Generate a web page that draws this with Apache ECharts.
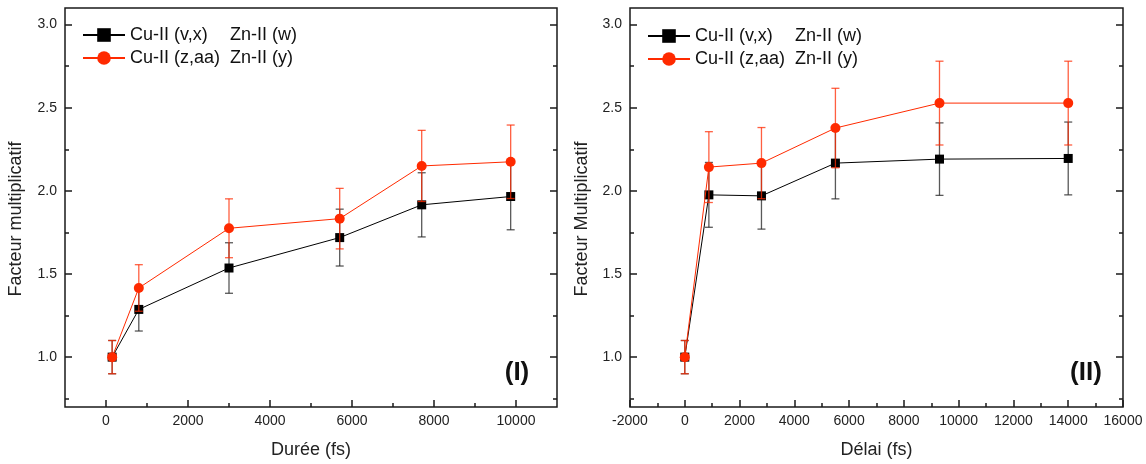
<!DOCTYPE html>
<html>
<head>
<meta charset="utf-8">
<script src="https://cdn.jsdelivr.net/npm/echarts@6/dist/echarts.min.js"></script>
<style>
html,body{margin:0;padding:0;background:#fff;}
#chart{width:1146px;height:464px;}
</style>
</head>
<body>
<div id="chart"></div>
<script>
// ---------- data ----------
// Panel (I)
const xI = [150, 800, 3000, 5700, 7700, 9870];
const blackI = [1.0, 1.287, 1.536, 1.719, 1.916, 1.966];
const blackErrI = [0.1, 0.13, 0.152, 0.171, 0.193, 0.2];
const redI = [1.0, 1.416, 1.775, 1.833, 2.150, 2.175];
const redErrI = [0.1, 0.14, 0.177, 0.182, 0.214, 0.221];
// Panel (II)
const xII = [0, 880, 2800, 5500, 9300, 14000];
const blackII = [1.0, 1.976, 1.970, 2.167, 2.191, 2.195];
const blackErrII = [0.1, 0.195, 0.2, 0.215, 0.218, 0.219];
const redII = [1.0, 2.143, 2.167, 2.378, 2.528, 2.528];
const redErrII = [0.1, 0.213, 0.214, 0.239, 0.252, 0.252];

// ticks
const yMajor = [1.0, 1.5, 2.0, 2.5, 3.0];
const yMinor = [0.75, 1.25, 1.75, 2.25, 2.75];
const xMajorI = [0, 2000, 4000, 6000, 8000, 10000];
const xMinorI = [1000, 3000, 5000, 7000, 9000];
const xMajorII = [-2000, 0, 2000, 4000, 6000, 8000, 10000, 12000, 14000, 16000];
const xMinorII = [-1000, 1000, 3000, 5000, 7000, 9000, 11000, 13000, 15000];

const legendCu = ['Cu-II (v,x)', 'Cu-II (z,aa)'];
const legendZn = ['Zn-II (w)', 'Zn-II (y)'];

// ---------- style ----------
const FONT = 'Liberation Sans, Arial, Helvetica, sans-serif';
const AX = '#1a1a1a';
const RED = '#ff2a00';
const BLK = '#000000';

function xAxes(grid, min, max, major, minor, name) {
  return [
    {
      type: 'value', gridIndex: grid, position: 'bottom', min: min, max: max,
      axisLine: { show: false, onZero: false }, splitLine: { show: false },
      axisTick: { show: true, inside: true, length: 7, customValues: major, lineStyle: { color: AX, width: 1.5 } },
      axisLabel: { show: true, customValues: major, margin: 7, color: '#222', fontSize: 14, fontFamily: FONT,
        formatter: v => String(v) },
      name: name, nameLocation: 'middle', nameGap: 34,
      nameTextStyle: { fontSize: 18, color: '#222', fontFamily: FONT }
    },
    {
      type: 'value', gridIndex: grid, position: 'bottom', min: min, max: max,
      axisLine: { show: false, onZero: false }, splitLine: { show: false },
      axisTick: { show: true, inside: true, length: 4, customValues: minor, lineStyle: { color: AX, width: 1.5 } },
      axisLabel: { show: false }
    }
  ];
}
function yAxes(grid) {
  const base = { type: 'value', gridIndex: grid, min: 0.7, max: 3.1,
    axisLine: { show: false, onZero: false }, splitLine: { show: false } };
  return [
    Object.assign({}, base, { position: 'left',
      axisTick: { show: true, inside: true, length: 7, customValues: yMajor, lineStyle: { color: AX, width: 1.5 } },
      axisLabel: { show: true, customValues: yMajor, margin: 8, color: '#222', fontSize: 14, fontFamily: FONT,
        formatter: v => v.toFixed(1) } }),
    Object.assign({}, base, { position: 'left',
      axisTick: { show: true, inside: true, length: 4, customValues: yMinor, lineStyle: { color: AX, width: 1.5 } },
      axisLabel: { show: false } }),
    Object.assign({}, base, { position: 'right',
      axisTick: { show: true, inside: true, length: 7, customValues: yMajor, lineStyle: { color: AX, width: 1.5 } },
      axisLabel: { show: false } }),
    Object.assign({}, base, { position: 'right',
      axisTick: { show: true, inside: true, length: 4, customValues: yMinor, lineStyle: { color: AX, width: 1.5 } },
      axisLabel: { show: false } })
  ];
}

function errSeries(xIdx, yIdx, xs, ys, es, color, z) {
  return {
    type: 'custom', xAxisIndex: xIdx, yAxisIndex: yIdx, z: z, silent: true,
    data: xs.map((x, i) => [x, ys[i] - es[i], ys[i] + es[i]]),
    encode: { x: 0, y: [1, 2] },
    renderItem: function (params, api) {
      const x = api.value(0);
      const p1 = api.coord([x, api.value(1)]);
      const p2 = api.coord([x, api.value(2)]);
      const w = 4;
      const st = { stroke: color, lineWidth: 1.3, opacity: 0.75 };
      return { type: 'group', children: [
        { type: 'line', shape: { x1: p1[0], y1: p1[1], x2: p2[0], y2: p2[1] }, style: st },
        { type: 'line', shape: { x1: p1[0] - w, y1: p1[1], x2: p1[0] + w, y2: p1[1] }, style: st },
        { type: 'line', shape: { x1: p2[0] - w, y1: p2[1], x2: p2[0] + w, y2: p2[1] }, style: st }
      ] };
    }
  };
}
function lineSeries(name, xIdx, yIdx, xs, ys, color, symbol, size, z) {
  return {
    name: name, type: 'line', xAxisIndex: xIdx, yAxisIndex: yIdx, z: z,
    data: xs.map((x, i) => [x, ys[i]]),
    symbol: symbol, symbolSize: size, showSymbol: true,
    itemStyle: { color: color, borderWidth: 0 },
    lineStyle: { color: color, width: 1 },
    emphasis: { disabled: true }, animation: false
  };
}

const richLegend = {
  a: { width: 100, fontSize: 18, fontFamily: FONT, color: '#111' },
  b: { fontSize: 18, fontFamily: FONT, color: '#111' }
};
function legendFmt(name) {
  const idx = name.endsWith('B') ? 0 : 1;
  return '{a|' + legendCu[idx] + '}{b|' + legendZn[idx] + '}';
}

const option = {
  backgroundColor: '#fff',
  animation: false,
  grid: [
    { left: 65, top: 8, width: 492, height: 399, show: true, borderColor: AX, borderWidth: 1.5, backgroundColor: 'transparent' },
    { left: 630, top: 8, width: 493, height: 399, show: true, borderColor: AX, borderWidth: 1.5, backgroundColor: 'transparent' }
  ],
  xAxis: [].concat(
    xAxes(0, -1000, 11000, xMajorI, xMinorI, 'Durée (fs)'),
    xAxes(1, -2000, 16000, xMajorII, xMinorII, 'Délai (fs)')
  ),
  yAxis: [].concat(yAxes(0), yAxes(1)),
  legend: [
    { data: ['IB', 'IR'], left: 82, top: 26, orient: 'vertical', padding: 0,
      itemWidth: 42, itemHeight: 17, itemGap: 5, formatter: legendFmt,
      textStyle: { rich: richLegend, fontSize: 18, fontFamily: FONT }, selectedMode: false },
    { data: ['IIB', 'IIR'], left: 647, top: 27, orient: 'vertical', padding: 0,
      itemWidth: 42, itemHeight: 17, itemGap: 5, formatter: legendFmt,
      textStyle: { rich: richLegend, fontSize: 18, fontFamily: FONT }, selectedMode: false }
  ],
  graphic: [
    { type: 'text', x: 16, y: 219, rotation: Math.PI / 2,
      style: { text: 'Facteur multiplicatif', fontSize: 18, fontFamily: FONT, fill: '#222', align: 'center', verticalAlign: 'middle' } },
    { type: 'text', x: 582, y: 219, rotation: Math.PI / 2,
      style: { text: 'Facteur Multiplicatif', fontSize: 18, fontFamily: FONT, fill: '#222', align: 'center', verticalAlign: 'middle' } },
    { type: 'text', x: 517, y: 373,
      style: { text: '(I)', fontSize: 26, fontWeight: 'bold', fontFamily: FONT, fill: '#111', align: 'center', verticalAlign: 'middle' } },
    { type: 'text', x: 1086, y: 373,
      style: { text: '(II)', fontSize: 26, fontWeight: 'bold', fontFamily: FONT, fill: '#111', align: 'center', verticalAlign: 'middle' } }
  ],
  series: [
    errSeries(0, 0, xI, blackI, blackErrI, '#222', 2),
    lineSeries('IB', 0, 0, xI, blackI, BLK, 'rect', 9, 3),
    errSeries(0, 0, xI, redI, redErrI, RED, 4),
    lineSeries('IR', 0, 0, xI, redI, RED, 'circle', 10, 5),
    errSeries(2, 4, xII, blackII, blackErrII, '#222', 2),
    lineSeries('IIB', 2, 4, xII, blackII, BLK, 'rect', 9, 3),
    errSeries(2, 4, xII, redII, redErrII, RED, 4),
    lineSeries('IIR', 2, 4, xII, redII, RED, 'circle', 10, 5)
  ]
};

const chart = echarts.init(document.getElementById('chart'), null, { renderer: 'canvas' });
chart.setOption(option);
</script>
</body>
</html>
